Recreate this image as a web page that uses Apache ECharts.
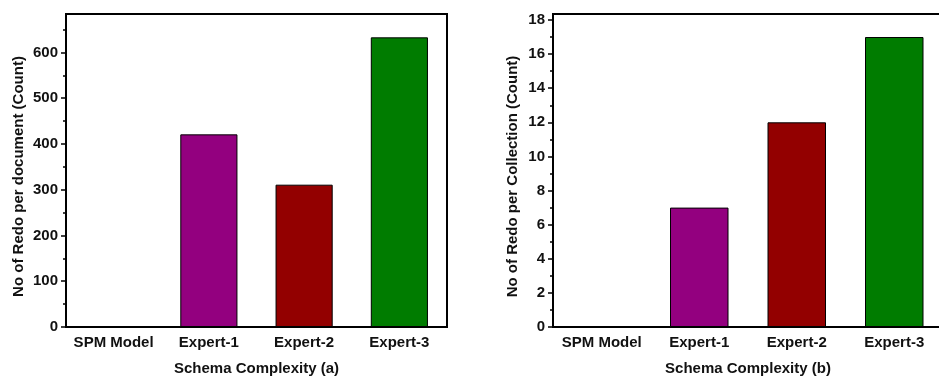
<!DOCTYPE html>
<html>
<head>
<meta charset="utf-8">
<script src="https://cdn.jsdelivr.net/npm/echarts@6/dist/echarts.min.js"></script>
<style>
  html, body { margin: 0; padding: 0; background: #fff; }
  #chart { width: 939px; height: 381px; }
</style>
</head>
<body>
<div id="chart"></div>
<script>
// Categories shared by both panels
var categories = ['SPM Model', 'Expert-1', 'Expert-2', 'Expert-3'];
var barColors = ['#93007f', '#93007f', '#930000', '#007c00'];

// Panel (a): redo count per document
var redoPerDocument = [0, 421, 311, 633];
var docMajorTicks = [0, 100, 200, 300, 400, 500, 600];
var docMinorTicks = [50, 150, 250, 350, 450, 550, 650];
var docMax = 684;

// Panel (b): redo count per collection
var redoPerCollection = [0, 7, 12, 17];
var colMajorTicks = [0, 2, 4, 6, 8, 10, 12, 14, 16, 18];
var colMinorTicks = [1, 3, 5, 7, 9, 11, 13, 15, 17];
var colMax = 18.35;

var FONT = "'Liberation Sans', Arial, sans-serif";
var txt = { fontFamily: FONT, fontWeight: 'bold', fontSize: 15, color: '#111' };

function xAxes(gridIndex, title) {
  return [
    {
      type: 'category', gridIndex: gridIndex, data: categories, position: 'bottom',
      axisLine: { lineStyle: { color: '#000', width: 2 } },
      axisTick: { alignWithLabel: true, interval: 0, length: 5, lineStyle: { color: '#000', width: 1.5 } },
      axisLabel: Object.assign({ margin: 8, interval: 0, hideOverlap: false }, txt),
      name: title, nameLocation: 'middle', nameGap: 34, nameTextStyle: txt
    },
    {
      // boundary ticks between categories
      type: 'category', gridIndex: gridIndex, data: categories, position: 'bottom',
      axisLine: { show: false },
      axisTick: { interval: 0, length: 3, lineStyle: { color: '#000', width: 1.5 } },
      axisLabel: { show: false }
    }
  ];
}

function yAxes(gridIndex, max, major, minor, title, gap) {
  return [
    {
      type: 'value', gridIndex: gridIndex, min: 0, max: max, position: 'left',
      splitLine: { show: false },
      axisLine: { show: true, lineStyle: { color: '#000', width: 2 } },
      axisTick: { show: true, length: 5, customValues: major, lineStyle: { color: '#000', width: 1.5 } },
      axisLabel: Object.assign({ margin: 8, customValues: major }, txt),
      name: title, nameLocation: 'middle', nameGap: gap, nameRotate: 90,
      nameTextStyle: Object.assign({ padding: [0, 12, 0, 0] }, txt)
    },
    {
      // minor ticks
      type: 'value', gridIndex: gridIndex, min: 0, max: max, position: 'left',
      splitLine: { show: false },
      axisLine: { show: false },
      axisTick: { show: true, length: 3, customValues: minor, lineStyle: { color: '#000', width: 1.5 } },
      axisLabel: { show: false }
    }
  ];
}

function barSeries(xi, yi, values) {
  return {
    type: 'bar', xAxisIndex: xi, yAxisIndex: yi, barWidth: '60%',
    data: values.map(function (v, i) {
      return { value: v, itemStyle: { color: barColors[i] } };
    }),
    itemStyle: { borderColor: '#000', borderWidth: 1 },
    emphasis: { disabled: true }
  };
}

var chart = echarts.init(document.getElementById('chart'), null, { renderer: 'canvas' });
chart.setOption({
  animation: false,
  backgroundColor: '#fff',
  grid: [
    { left: 66, top: 14, width: 381, height: 313, show: true, borderColor: '#000', borderWidth: 2,
      containLabel: false, outerBoundsMode: 'none' },
    { left: 553, top: 14, width: 390, height: 313, show: true, borderColor: '#000', borderWidth: 2,
      containLabel: false, outerBoundsMode: 'none' }
  ],
  xAxis: xAxes(0, 'Schema Complexity (a)').concat(xAxes(1, 'Schema Complexity (b)')),
  yAxis: yAxes(0, docMax, docMajorTicks, docMinorTicks, 'No of Redo per document (Count)', 40)
    .concat(yAxes(1, colMax, colMajorTicks, colMinorTicks, 'No of Redo per Collection (Count)', 33)),
  series: [
    barSeries(0, 0, redoPerDocument),
    barSeries(2, 2, redoPerCollection)
  ]
});
</script>
</body>
</html>
